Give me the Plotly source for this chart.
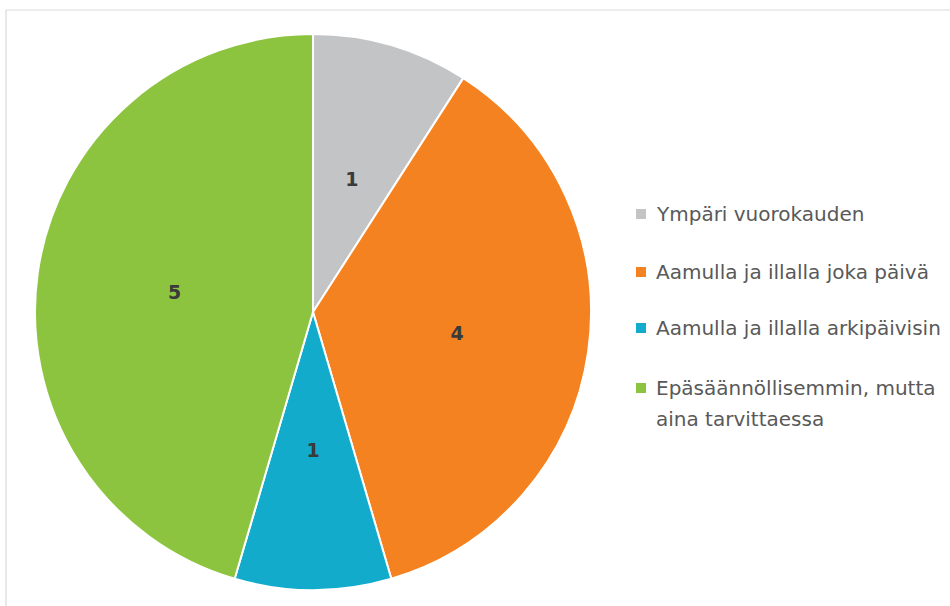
import plotly.graph_objects as go

labels = ["Ympäri vuorokauden", "Aamulla ja illalla joka päivä",
          "Aamulla ja illalla arkipäivisin", "Epäsäännöllisemmin, mutta aina tarvittaessa"]
legend_lines = [["Ympäri vuorokauden"], ["Aamulla ja illalla joka päivä"],
                ["Aamulla ja illalla arkipäivisin"], ["Epäsäännöllisemmin, mutta", "aina tarvittaessa"]]
values = [1, 4, 1, 5]
colors = ["#C3C4C6", "#F58220", "#12ABCB", "#8DC43F"]
# which slices get their value label placed on the inner (smaller-radius) label ring
small_slice = [True, False, True, False]

W, H = 950, 606
cx, cy, r = 313, 312, 278
r_lab = 177  # radius of the invisible label pie for small slices

label_font = dict(family="DejaVu Sans", size=19, color="#3A3A3A", weight="bold")

def dom(rad):
    return dict(x=[(cx - rad) / W, (cx + rad) / W], y=[1 - (cy + rad) / H, 1 - (cy - rad) / H])

fig = go.Figure()
fig.add_trace(go.Pie(
    labels=labels, values=values, sort=False, direction="clockwise", rotation=0,
    marker=dict(colors=colors, line=dict(color="white", width=2)),
    texttemplate=[" " if s else "%{value}" for s in small_slice],
    textposition="inside", insidetextorientation="horizontal",
    textfont=label_font, showlegend=False, hoverinfo="label+value",
    domain=dom(r),
))
fig.add_trace(go.Pie(
    labels=labels, values=values, sort=False, direction="clockwise", rotation=0,
    marker=dict(colors=["rgba(0,0,0,0)"] * len(values), line=dict(width=0)),
    texttemplate=["%{value}" if s else " " for s in small_slice],
    textposition="inside", insidetextorientation="horizontal",
    textfont=label_font, showlegend=False, hoverinfo="skip",
    domain=dom(r_lab),
))

shapes = [dict(type="rect", xref="paper", yref="paper", x0=6 / W, x1=1.05, y0=-0.05, y1=1 - 10 / H,
               line=dict(color="#D9D9D9", width=1.2), fillcolor="rgba(0,0,0,0)", layer="below")]
annotations = []
item_y = [214, 272, 328, 388]
line_gap = 31
for i, lines in enumerate(legend_lines):
    y = item_y[i]
    shapes.append(dict(type="rect", xref="paper", yref="paper",
                       x0=636 / W, x1=646 / W, y0=1 - (y + 5) / H, y1=1 - (y - 5) / H,
                       line=dict(width=0), fillcolor=colors[i]))
    for j, t in enumerate(lines):
        annotations.append(dict(text=t, xref="paper", yref="paper", x=654 / W, y=1 - (y + j * line_gap) / H,
                                xanchor="left", yanchor="middle", showarrow=False,
                                font=dict(family="DejaVu Sans", size=20, color="#595959")))

fig.update_layout(width=W, height=H, margin=dict(l=0, r=0, t=0, b=0),
                  paper_bgcolor="white", plot_bgcolor="white",
                  shapes=shapes, annotations=annotations)
fig.write_html("out.html", config={"displayModeBar": False},
               post_script="document.body.style.margin='0px';")
